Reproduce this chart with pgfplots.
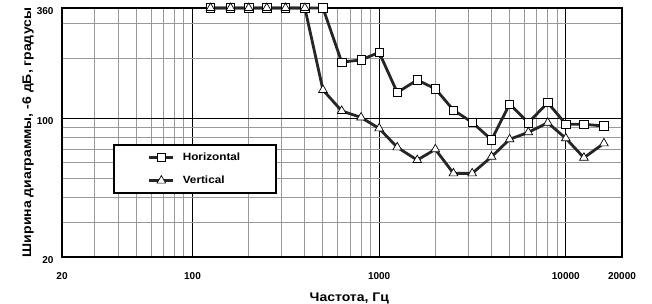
\documentclass[border=0pt]{standalone}
\usepackage{fontspec}
\setmainfont{Liberation Sans}
\newfontfamily\labelfont[FakeStretch=1.12]{Liberation Sans}
\usepackage{pgfplots}
\pgfplotsset{compat=1.18}
\begin{document}
\begin{tikzpicture}
\begin{axis}[
  xmode=log, ymode=log,
  scale only axis, width=560pt, height=249pt,
  xmin=20, xmax=20000, ymin=20, ymax=360,
  xtick={20,100,1000,10000,20000},
  xticklabels={20,100,1000,10000,20000},
  ytick={20,100,360},
  yticklabels={20,100,360},
  minor xtick={30,40,50,60,70,80,90,200,300,400,500,600,700,800,900,2000,3000,4000,5000,6000,7000,8000,9000},
  minor ytick={30,40,50,60,70,80,90,200,300},
  grid=both,
  major grid style={black, line width=0.7pt},
  minor grid style={black!40, line width=1pt},
  major tick length=0pt, minor tick length=0pt,
  axis line style={line width=2.4pt},
  tick label style={font=\bfseries\fontsize{10}{11}\selectfont},
  xticklabel style={anchor=center, yshift=-19pt},
  yticklabel style={anchor=east, xshift=-5pt, yshift=-3pt},
  xlabel={Частота, Гц},
  ylabel={Ширина диаграммы, -6 дБ, градусы},
  xlabel style={at={(axis description cs:0.513,-0.177)}, anchor=base, font=\labelfont\bfseries\fontsize{12.5}{14}\selectfont},
  ylabel style={at={(axis description cs:-0.055,0.5)}, anchor=base, font=\labelfont\bfseries\fontsize{12.5}{14}\selectfont},
  clip=false,
  legend style={at={(axis description cs:0.091,0.454)}, anchor=north west, draw=black, line width=2pt, font=\labelfont\bfseries\fontsize{10.5}{12}\selectfont, inner xsep=34pt, inner ysep=6pt, row sep=10pt, fill=white, /tikz/every odd column/.append style={column sep=6pt}},
  legend cell align=left,
  legend image code/.code={\draw[mark repeat=2, mark phase=2] plot coordinates {(0pt,0pt) (12pt,0pt) (24pt,0pt)};},
]
\addplot[black!85, line width=2.8pt, mark=square*, mark size=4.2pt, mark options={solid, fill=white, draw=black, line width=0.7pt}] coordinates {
(125,360) (160,360) (200,360) (250,360) (315,360) (400,360) (500,360)
(630,192) (800,197) (1000,215) (1250,135) (1600,156) (2000,141) (2500,110)
(3150,95.5) (4000,78) (5000,118) (6300,95) (8000,120) (10000,93.5) (12500,93.3) (16000,91.5)
};
\addlegendentry{Horizontal}
\addplot[black!85, line width=2.8pt, mark=triangle*, mark size=5pt, mark options={solid, fill=white, draw=black, line width=0.7pt}] coordinates {
(125,360) (160,360) (200,360) (250,360) (315,360) (400,360)
(500,139) (630,109) (800,101) (1000,89) (1250,71.4) (1600,61.6) (2000,69.8) (2500,52.8)
(3150,52.8) (4000,64) (5000,78.4) (6300,85) (8000,95) (10000,79.3) (12500,63.3) (16000,74.8)
};
\addlegendentry{Vertical}
\coordinate (bl) at (rel axis cs:0,0);
\coordinate (tr) at (rel axis cs:1,1);
\end{axis}
\pgfresetboundingbox
\path[use as bounding box] ([xshift=-62pt,yshift=-47pt]bl) rectangle ([xshift=30pt,yshift=8pt]tr);
\end{tikzpicture}
\end{document}
